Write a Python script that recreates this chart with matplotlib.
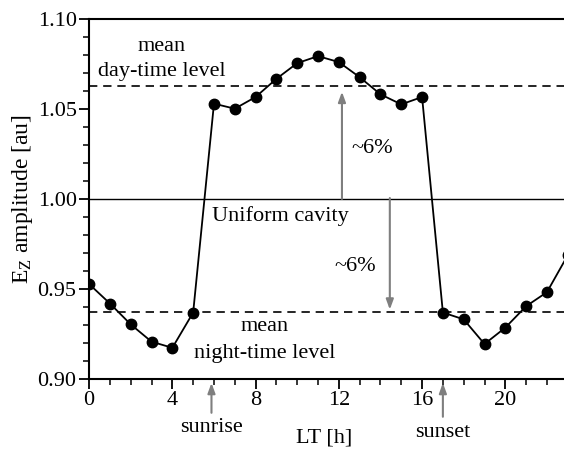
import matplotlib
matplotlib.use('Agg')
import matplotlib.pyplot as plt

plt.rcParams['font.family'] = ['Liberation Serif', 'DejaVu Serif']
plt.rcParams['mathtext.fontset'] = 'custom'
plt.rcParams['mathtext.rm'] = 'Liberation Serif'
plt.rcParams['mathtext.it'] = 'Liberation Serif'

# hourly E_z amplitude
hours = list(range(24))
amp = [0.9527, 0.9419, 0.9303, 0.9207, 0.9173, 0.9369,
       1.0529, 1.0501, 1.0566, 1.0667, 1.0754, 1.0793,
       1.0760, 1.0676, 1.0581, 1.0525, 1.0566,
       0.9369, 0.9331, 0.9194, 0.9285, 0.9404, 0.9482, 0.9687]
day_level = 1.0627
night_level = 0.9374
uniform = 1.0
sunrise = 5.88
sunset = 17.0
xticks = [0, 4, 8, 12, 16, 20]
yticks = [0.90, 0.95, 1.00, 1.05, 1.10]

fig = plt.figure(figsize=(5.64, 4.49), dpi=100)
ax = fig.add_axes([0.158, 0.156, 0.842, 0.802])

ax.plot(hours, amp, color='black', lw=1.3, marker='o', ms=7.5, zorder=3)
ax.axhline(day_level, color='black', lw=1.2, ls=(0, (5, 3.5)))
ax.axhline(night_level, color='black', lw=1.2, ls=(0, (5, 3.5)))
ax.axhline(uniform, color='black', lw=1.0)

grey = '#7f7f7f'
arr = dict(arrowstyle='-|>,head_length=0.6,head_width=0.22', color=grey, lw=1.5, shrinkA=0, shrinkB=0)
ax.annotate('', xy=(12.15, 1.0595), xytext=(12.15, 1.0), arrowprops=arr)
ax.annotate('', xy=(14.45, 0.9385), xytext=(14.45, 1.0005), arrowprops=arr)

fs = 16
ax.text(13.6, 1.028, '~6%', ha='center', va='center', fontsize=fs)
ax.text(12.8, 0.9626, '~6%', ha='center', va='center', fontsize=fs)
ax.text(9.2, 0.9905, 'Uniform cavity', ha='center', va='center', fontsize=fs)
ax.text(3.5, 1.0845, 'mean', ha='center', va='center', fontsize=fs)
ax.text(3.5, 1.0706, 'day-time level', ha='center', va='center', fontsize=fs)
ax.text(8.45, 0.929, 'mean', ha='center', va='center', fontsize=fs)
ax.text(8.45, 0.9141, 'night-time level', ha='center', va='center', fontsize=fs)

ax.set_xlim(0, 22.82)
ax.set_ylim(0.90, 1.10)
ax.set_xticks(xticks)
ax.set_xticks(range(0, 23), minor=True)
ax.set_yticks(yticks)
ax.set_yticks([0.90 + 0.01 * i for i in range(21)], minor=True)
ax.set_yticklabels(['%.2f' % v for v in yticks])
ax.tick_params(labelsize=fs, direction='out', length=7, width=1.3, pad=2)
ax.tick_params(which='minor', direction='out', length=4, width=1.1)
for s in ['left', 'bottom', 'top']:
    ax.spines[s].set_linewidth(1.5)
ax.spines['right'].set_visible(False)
ax.tick_params(top=False, right=False)

ax.set_ylabel('E$_Z$ amplitude [au]', fontsize=17)
ax.yaxis.set_label_coords(-0.114, 0.5)

# sunrise / sunset markers below the axis
trans = ax.get_xaxis_transform()
for xv, lab, ty, y0 in [(sunrise, 'sunrise', -0.136, -0.094), (sunset, 'sunset', -0.15, -0.105)]:
    ax.annotate('', xy=(xv, -0.011), xytext=(xv, y0), xycoords=trans, textcoords=trans,
                arrowprops=arr, annotation_clip=False)
    ax.text(xv, ty, lab, transform=trans, ha='center', va='center', fontsize=fs)

ax.text(11.3, -0.163, 'LT [h]', transform=trans, ha='center', va='center', fontsize=fs)

fig.savefig('out.png', dpi=100)
